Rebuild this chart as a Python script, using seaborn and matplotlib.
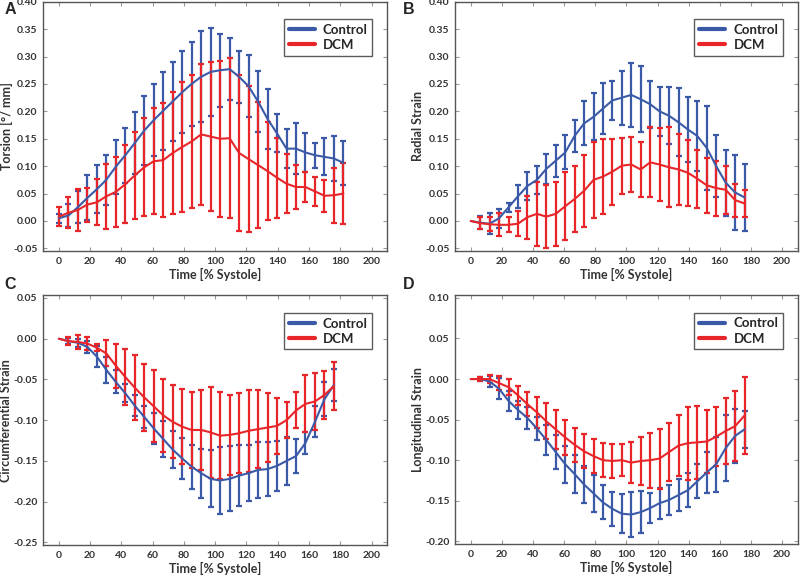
import numpy as np
import pandas as pd
import matplotlib
matplotlib.use("Agg")
import matplotlib.pyplot as plt
import seaborn as sns

# time points [% systole]
time_pts = [0, 6.1, 12.1, 18.2, 24.3, 30.3, 36.4, 42.5, 48.5, 54.6, 60.7, 66.7, 72.8, 78.9,
            84.9, 91.0, 97.1, 103.1, 109.2, 115.3, 121.3, 127.4, 133.5, 139.5, 145.6, 151.7,
            157.7, 163.8, 169.9, 175.9, 182.0]

# A - torsion
tor_ctrl = [0.005, 0.010, 0.025, 0.042, 0.058, 0.075, 0.099, 0.120, 0.142, 0.165, 0.184, 0.201,
            0.218, 0.235, 0.250, 0.263, 0.272, 0.275, 0.277, 0.263, 0.246, 0.218, 0.186, 0.160,
            0.132, 0.132, 0.125, 0.120, 0.117, 0.114, 0.106]
tor_ctrl_sd = [0.008, 0.021, 0.029, 0.041, 0.044, 0.045, 0.049, 0.050, 0.057, 0.063, 0.066, 0.071,
               0.072, 0.075, 0.076, 0.083, 0.080, 0.067, 0.057, 0.048, 0.056, 0.055, 0.054, 0.035,
               0.036, 0.046, 0.036, 0.023, 0.034, 0.041, 0.040]
tor_dcm = [0.008, 0.015, 0.020, 0.030, 0.034, 0.045, 0.053, 0.067, 0.083, 0.098, 0.109, 0.111,
           0.124, 0.135, 0.145, 0.158, 0.154, 0.150, 0.151, 0.124, 0.113, 0.102, 0.091, 0.079,
           0.068, 0.062, 0.062, 0.054, 0.046, 0.047, 0.050]
tor_dcm_sd = [0.018, 0.028, 0.038, 0.031, 0.042, 0.059, 0.064, 0.071, 0.080, 0.089, 0.097, 0.104,
              0.112, 0.118, 0.122, 0.129, 0.136, 0.142, 0.146, 0.143, 0.133, 0.115, 0.090, 0.073,
              0.054, 0.040, 0.028, 0.026, 0.029, 0.050, 0.056]

# B - radial strain
rad_ctrl = [0, -0.003, -0.005, 0.005, 0.025, 0.045, 0.064, 0.075, 0.095, 0.110, 0.125, 0.155,
            0.178, 0.190, 0.205, 0.220, 0.225, 0.230, 0.222, 0.213, 0.200, 0.192, 0.180, 0.167,
            0.155, 0.133, 0.100, 0.070, 0.052, 0.043]
rad_ctrl_sd = [0, 0.012, 0.019, 0.017, 0.008, 0.021, 0.026, 0.025, 0.028, 0.029, 0.031, 0.030,
               0.040, 0.043, 0.046, 0.035, 0.049, 0.058, 0.060, 0.043, 0.045, 0.052, 0.062, 0.060,
               0.064, 0.076, 0.057, 0.060, 0.069, 0.061]
rad_dcm = [0, -0.004, -0.006, -0.007, -0.007, -0.005, 0.007, 0.013, 0.008, 0.013, 0.027, 0.040,
           0.055, 0.075, 0.081, 0.090, 0.101, 0.103, 0.094, 0.107, 0.103, 0.098, 0.094, 0.088,
           0.077, 0.065, 0.060, 0.057, 0.038, 0.032]
rad_dcm_sd = [0, 0.011, 0.013, 0.021, 0.014, 0.023, 0.039, 0.058, 0.057, 0.058, 0.062, 0.060,
              0.066, 0.070, 0.068, 0.060, 0.051, 0.050, 0.051, 0.064, 0.066, 0.073, 0.064, 0.060,
              0.053, 0.050, 0.050, 0.044, 0.030, 0.024]

# C - circumferential strain
circ_ctrl = [0, -0.003, -0.005, -0.010, -0.022, -0.038, -0.053, -0.067, -0.082, -0.096, -0.110,
             -0.123, -0.136, -0.147, -0.157, -0.165, -0.172, -0.174, -0.172, -0.168, -0.165,
             -0.161, -0.160, -0.156, -0.150, -0.144, -0.128, -0.102, -0.074, -0.057]
circ_ctrl_sd = [0, 0.004, 0.005, 0.007, 0.013, 0.016, 0.014, 0.011, 0.013, 0.013, 0.019, 0.022,
                0.023, 0.025, 0.027, 0.030, 0.035, 0.041, 0.040, 0.037, 0.034, 0.034, 0.033,
                0.031, 0.029, 0.021, 0.013, 0.019, 0.021, 0.020]
circ_dcm = [0, -0.003, -0.004, -0.006, -0.011, -0.018, -0.033, -0.047, -0.060, -0.072, -0.083,
            -0.094, -0.102, -0.108, -0.112, -0.112, -0.115, -0.119, -0.118, -0.116, -0.113,
            -0.111, -0.109, -0.107, -0.100, -0.088, -0.080, -0.077, -0.069, -0.058]
circ_dcm_sd = [0, 0.005, 0.009, 0.008, 0.004, 0.016, 0.027, 0.034, 0.040, 0.041, 0.044, 0.045,
               0.045, 0.046, 0.047, 0.049, 0.056, 0.053, 0.049, 0.049, 0.050, 0.048, 0.042,
               0.034, 0.022, 0.022, 0.035, 0.035, 0.029, 0.030]

# D - longitudinal strain
long_ctrl = [0, 0, -0.003, -0.012, -0.027, -0.038, -0.048, -0.061, -0.075, -0.090, -0.105,
             -0.117, -0.130, -0.141, -0.152, -0.160, -0.166, -0.167, -0.164, -0.159, -0.153,
             -0.149, -0.143, -0.137, -0.126, -0.115, -0.105, -0.085, -0.070, -0.062]
long_ctrl_sd = [0, 0.002, 0.007, 0.013, 0.012, 0.011, 0.013, 0.014, 0.018, 0.021, 0.023, 0.023,
                0.023, 0.023, 0.021, 0.021, 0.024, 0.028, 0.026, 0.019, 0.019, 0.018, 0.020,
                0.021, 0.021, 0.025, 0.034, 0.041, 0.033, 0.023]
long_dcm = [0, 0, 0, -0.005, -0.010, -0.020, -0.031, -0.041, -0.052, -0.062, -0.072, -0.081,
            -0.089, -0.095, -0.100, -0.101, -0.100, -0.103, -0.101, -0.100, -0.098, -0.090,
            -0.082, -0.079, -0.078, -0.077, -0.071, -0.064, -0.058, -0.045]
long_dcm_sd = [0, 0.003, 0.005, 0.009, 0.010, 0.012, 0.015, 0.019, 0.022, 0.024, 0.022, 0.021,
               0.021, 0.021, 0.021, 0.021, 0.020, 0.025, 0.029, 0.034, 0.037, 0.036, 0.038,
               0.045, 0.045, 0.039, 0.036, 0.041, 0.043, 0.047]

groups = ["Control", "DCM"]
colors = {"Control": "#3a5aa8", "DCM": "#e8262a"}

sns.set_style("white")
plt.rcParams["font.family"] = ["Lato", "DejaVu Sans"]
plt.rcParams["font.weight"] = "bold"

fig = plt.figure(figsize=(8, 5.76), dpi=100)

panels = [
    ("A", "Torsion [°/ mm]", tor_ctrl, tor_ctrl_sd, tor_dcm, tor_dcm_sd,
     (-0.055, 0.40), np.arange(-0.05, 0.41, 0.05), [0.054, 0.564, 0.430, 0.433]),
    ("B", "Radial Strain", rad_ctrl, rad_ctrl_sd, rad_dcm, rad_dcm_sd,
     (-0.055, 0.40), np.arange(-0.05, 0.41, 0.05), [0.569, 0.564, 0.428, 0.433]),
    ("C", "Circumferential Strain", circ_ctrl, circ_ctrl_sd, circ_dcm, circ_dcm_sd,
     (-0.253, 0.053), np.arange(-0.25, 0.051, 0.05), [0.054, 0.054, 0.430, 0.433]),
    ("D", "Longitudinal Strain", long_ctrl, long_ctrl_sd, long_dcm, long_dcm_sd,
     (-0.203, 0.103), np.arange(-0.20, 0.101, 0.05), [0.569, 0.056, 0.428, 0.431]),
]

letter_pos = {"A": (0.006, 0.976), "B": (0.504, 0.976), "C": (0.006, 0.499), "D": (0.503, 0.499)}

for letter, ylabel, c_m, c_sd, d_m, d_sd, ylim, yticks, rect in panels:
    ax = fig.add_axes(rect)
    n = len(c_m)
    df = pd.DataFrame({
        "time": time_pts[:n] * 2,
        "value": c_m + d_m,
        "sd": c_sd + d_sd,
        "group": ["Control"] * n + ["DCM"] * n,
    })
    for g in groups:
        sub = df[(df["group"] == g) & (df["sd"] > 0)]
        ax.errorbar(sub["time"], sub["value"], yerr=sub["sd"], fmt="none",
                    ecolor=colors[g], elinewidth=1.6, capsize=2.4, capthick=1.6)
    sns.lineplot(data=df, x="time", y="value", hue="group", palette=colors,
                 hue_order=groups, linewidth=1.5, ax=ax, legend=False)

    ax.set_xlim(-10, 210)
    ax.set_xticks(range(0, 201, 20))
    ax.set_ylim(*ylim)
    ax.set_yticks(yticks)
    ax.set_yticklabels(["%.2f" % v if abs(v) > 1e-9 else "0.00" for v in yticks])
    # small inward ticks on all four sides
    ax.tick_params(axis="both", direction="in", length=3, width=0.8, color="#999999",
                   left=True, right=True, top=True, bottom=True, labelsize=7.5)
    ax.tick_params(axis="y", pad=4)
    ax.tick_params(axis="x", pad=4.5)
    for lab in ax.get_xticklabels() + ax.get_yticklabels():
        lab.set_fontweight("bold")
        lab.set_color("#333333")
    for s in ax.spines.values():
        s.set_color("#555555")
        s.set_linewidth(1.0)
    ax.set_xlabel("Time [% Systole]", fontsize=9, fontweight="bold", color="#333333")
    ax.xaxis.set_label_coords(0.5, -17 / (rect[3] * 576))
    ax.set_ylabel(ylabel, fontsize=9, fontweight="bold", color="#333333")
    ax.yaxis.set_label_coords(-37 / (rect[2] * 800), 0.5)
    ax.yaxis.label.set_verticalalignment("center")

    handles = [plt.Line2D([], [], color=colors[g], lw=3) for g in groups]
    leg = ax.legend(handles, groups, loc="upper right", bbox_to_anchor=(0.957, 0.93),
                    borderaxespad=0, frameon=True, fancybox=False,
                    prop={"weight": "bold", "size": 9.5},
                    handlelength=2.0, borderpad=0.35, labelspacing=0.25, handletextpad=0.6)
    leg.get_frame().set_edgecolor("#333333")
    leg.get_frame().set_linewidth(1.0)

    fig.text(*letter_pos[letter], letter, fontsize=11.5, fontweight="bold", va="baseline",
             ha="left", family=["Liberation Sans", "DejaVu Sans"])

fig.savefig("out.png", dpi=100)
